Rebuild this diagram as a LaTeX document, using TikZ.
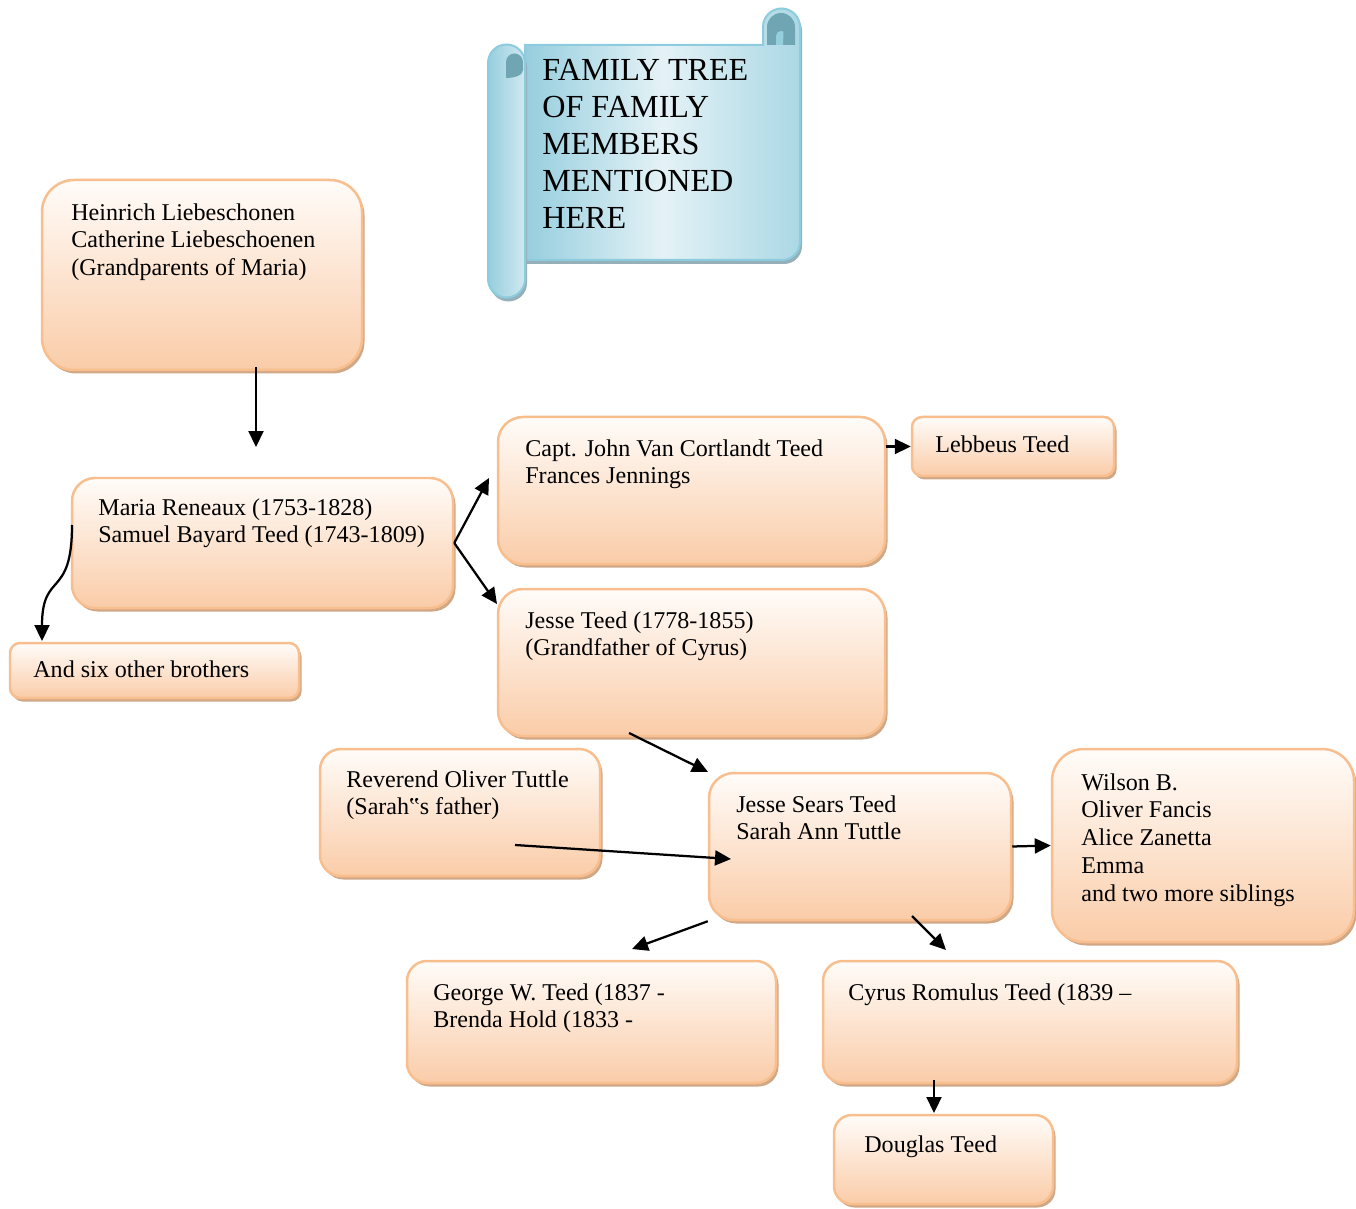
\documentclass[tikz,border=0pt]{standalone}
\usepackage{fontspec}
\setmainfont{Liberation Serif}
\usetikzlibrary{arrows.meta, shadows, fit}
\definecolor{peachline}{RGB}{248,190,142}
\definecolor{peachtop}{RGB}{255,252,249}
\definecolor{peachbot}{RGB}{250,204,168}
\definecolor{peachshadow}{RGB}{208,168,134}
\definecolor{scrollline}{RGB}{140,204,222}
\definecolor{scrollblue}{RGB}{150,206,222}
\definecolor{scrolllight}{RGB}{228,242,246}
\definecolor{scrolldark}{RGB}{112,166,180}
\definecolor{scrollshadow}{RGB}{150,176,186}

\begin{document}
\begin{tikzpicture}[x=0.02cm, y=-0.02cm,
    famBox/.style={draw=peachline, line width=0.05cm, rounded corners=#1,
      top color=peachtop, bottom color=peachbot, inner sep=0pt,
      drop shadow={shadow xshift=0.05cm, shadow yshift=-0.07cm, fill=peachshadow, opacity=1}},
    famBox/.default=0.5cm,
    famText/.style={anchor=north west, inner sep=0pt, align=left,
      font=\fontsize{13.7}{15.8}\selectfont},
    famArrow/.style={-{Triangle[length=0.32cm, width=0.3cm]}, line width=0.045cm}]
  \useasboundingbox (0,0) rectangle (1356,1209);

  % title scroll
  \fill[scrollshadow, shift={(2,4)}] (525,45) -- (763,45) -- (763,27)
    arc[start angle=180, end angle=360, radius=18.5] -- (800,242)
    arc[start angle=0, end angle=90, radius=18] -- (525,260) -- cycle;
  \draw[scrollline, line width=0.04cm, left color=scrollblue, right color=scrollblue!80,
      middle color=scrolllight] (525,45) -- (763,45) -- (763,27)
    arc[start angle=180, end angle=360, radius=18.5] -- (800,242)
    arc[start angle=0, end angle=90, radius=18] -- (525,260) -- cycle;
  \fill[scrolldark] (767,45) -- (767,27) arc[start angle=180, end angle=360, radius=14]
    -- (795,45) -- cycle;
  \fill[scrollblue] (776,45) -- (776,36) arc[start angle=180, end angle=300, radius=5]
    -- (783,45) -- cycle;
  \fill[scrollshadow, shift={(2,4)}] (488,63) arc[start angle=180, end angle=360, radius=18.5]
    -- (525,279) arc[start angle=0, end angle=180, radius=18.5] -- cycle;
  \draw[scrollline, line width=0.04cm, left color=scrollblue, right color=scrollblue!45]
    (488,63) arc[start angle=180, end angle=360, radius=18.5]
    -- (525,279) arc[start angle=0, end angle=180, radius=18.5] -- cycle;
  \fill[scrolldark] (506,78) -- (506,62) arc[start angle=180, end angle=360, radius=8.5]
    -- (523,70) .. controls (523,75) and (515,78) .. (506,78) -- cycle;
  \node[anchor=north west, inner sep=0pt, align=left, font=\fontsize{18.3}{21}\selectfont]
    (title) at (542,59) {FAMILY TREE\\OF FAMILY\\MEMBERS\\MENTIONED\\HERE};

  % boxes
  \node[famBox=0.64cm, fit={(42,180) (362,370)}] (hein) {};
  \node[famText] (heinT) at (71,203) {Heinrich Liebeschonen\\Catherine Liebeschoenen\\(Grandparents of Maria)};
  \node[famBox=0.46cm, fit={(72,478) (453,608)}] (maria) {};
  \node[famText] (mariaT) at (98,498) {Maria Reneaux (1753-1828)\\Samuel Bayard Teed (1743-1809)};
  \node[famBox=0.2cm, fit={(10,643) (299,698)}] (six) {};
  \node[famText] (sixT) at (33,660) {And six other brothers};
  \node[famBox, fit={(498,417) (885,564)}] (capt) {};
  \node[famText] (captT) at (525,439) {Capt. John Van Cortlandt Teed\\Frances Jennings};
  \node[famBox=0.2cm, fit={(912,417) (1114,476)}] (leb) {};
  \node[famText] (lebT) at (935,435) {Lebbeus Teed};
  \node[famBox, fit={(498,589) (885,736)}] (jesse) {};
  \node[famText] (jesseT) at (525,611) {Jesse Teed (1778-1855)\\(Grandfather of Cyrus)};
  \node[famBox=0.42cm, fit={(320,749) (600,876)}] (rev) {};
  \node[famText] (revT) at (346,770) {Reverend Oliver Tuttle\\(Sarah‟s father)};
  \node[famBox, fit={(709,773) (1011,920)}] (sears) {};
  \node[famText] (searsT) at (736,795) {Jesse Sears Teed\\Sarah Ann Tuttle};
  \node[famBox=0.64cm, fit={(1052,749) (1354,942)}] (wilson) {};
  \node[famText] (wilsonT) at (1081,773) {Wilson B.\\Oliver Fancis\\Alice Zanetta\\Emma\\and two more siblings};
  \node[famBox=0.4cm, fit={(407,961) (776,1083)}] (george) {};
  \node[famText] (georgeT) at (433,983) {George W. Teed (1837 -\\Brenda Hold (1833 -};
  \node[famBox=0.4cm, fit={(823,961) (1237,1083)}] (cyrus) {};
  \node[famText] (cyrusT) at (848,983) {Cyrus Romulus Teed (1839 –};
  \node[famBox=0.36cm, fit={(834,1115) (1053,1204)}] (douglas) {};
  \node[famText] (douglasT) at (864,1135) {Douglas Teed};

  % arrow ends
  \coordinate (heinOut) at (256,367);
  \coordinate (mariaIn) at (256,447);
  \coordinate (captIn) at (489,478);
  \coordinate (jesseIn) at (497,604);
  \coordinate (sixFrom) at (72,525);
  \coordinate (sixIn) at (42,641);
  \coordinate (jesseOut) at (629,733);
  \coordinate (searsIn) at (708,772);
  \coordinate (revOut) at (515,845);
  \coordinate (searsLeft) at (731,859);
  \coordinate (georgeIn) at (632,949);
  \coordinate (searsOut) at (912,916);
  \coordinate (cyrusIn) at (946,950);
  \coordinate (cyrusOut) at (934,1080);
  \coordinate (douglasIn) at (934,1113);

  % arrows
  \draw[famArrow] (heinOut) -- (mariaIn);
  \draw[famArrow] (maria.east) -- (captIn);
  \draw[famArrow] (maria.east) -- (jesseIn);
  \draw[famArrow] (sixFrom) .. controls (72,600) and (42,570) .. (sixIn);
  \draw[famArrow] (capt.east |- leb.west) -- (leb.west);
  \draw[famArrow] (jesseOut) -- (searsIn);
  \draw[famArrow] (revOut) -- (searsLeft);
  \draw[famArrow] (sears.east) -- (wilson.west);
  \draw[famArrow] (sears.south west) -- (georgeIn);
  \draw[famArrow] (searsOut) -- (cyrusIn);
  \draw[famArrow] (cyrusOut) -- (douglasIn);
\end{tikzpicture}
\end{document}
